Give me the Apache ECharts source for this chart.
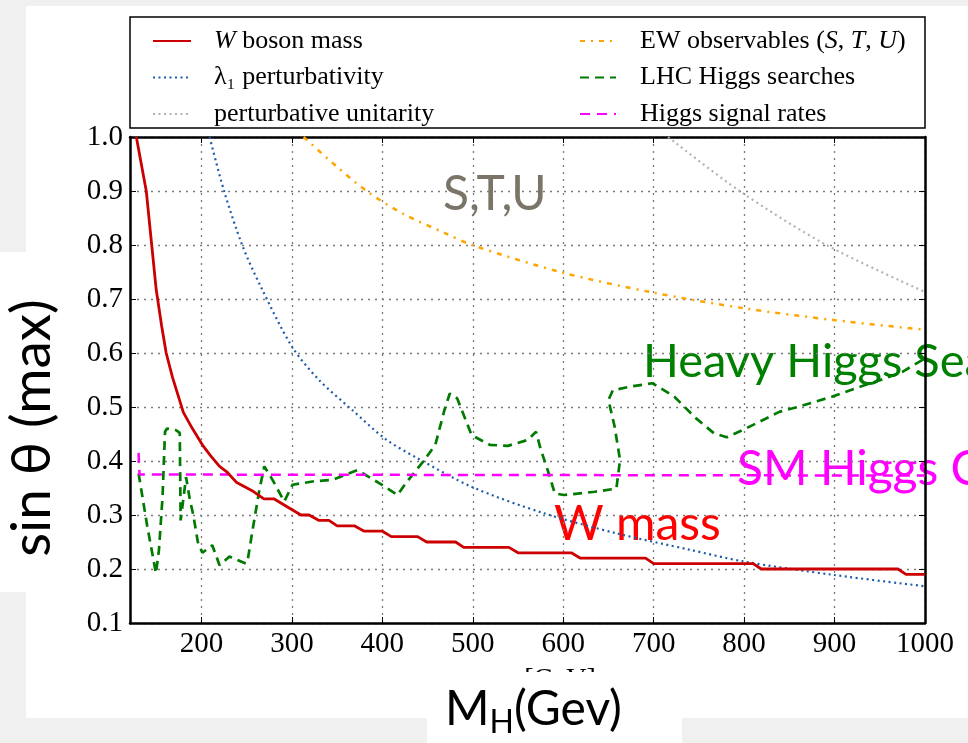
<!DOCTYPE html>
<html><head><meta charset="utf-8">
<script src="https://cdn.jsdelivr.net/npm/echarts@6/dist/echarts.min.js"></script>
<style>html,body{margin:0;padding:0;background:#f0f0f0}#c{width:968px;height:743px}</style>
</head><body><div id="c"></div><script>
// ---- data ----
const xTicks = [200,300,400,500,600,700,800,900,1000];
const yTicks = [0.1,0.2,0.3,0.4,0.5,0.6,0.7,0.8,0.9,1.0];

const wMassX = [128,139,145,150,156,161,168,180,190,201,210,220,228,239,256,269,280,297,310,319,330,341,350,369,380,400,410,439,449,481,490,540,550,609,619,691,700,810,819,970,979,1000];
const wMassY = [1.0,0.9,0.8,0.717,0.65,0.6,0.555,0.49,0.46,0.43,0.41,0.39,0.38,0.36,0.345,0.33,0.33,0.313,0.30,0.30,0.29,0.29,0.28,0.28,0.27,0.27,0.26,0.26,0.25,0.25,0.24,0.24,0.23,0.23,0.22,0.22,0.21,0.21,0.20,0.20,0.19,0.19];

const lambdaX = [209,225,245,265,300,330,367,404,439,499,579,659,739,799,899,1000];
const lambdaY = [1.0,0.9,0.8,0.725,0.612,0.55,0.494,0.44,0.405,0.352,0.303,0.266,0.236,0.214,0.189,0.168];

const unitX = [716,795,891,1000];
const unitY = [1.0,0.9,0.8,0.713];

const ewX = [313,349,385,425,468,499,599,699,799,899,1000];
const ewY = [1.0,0.946,0.897,0.856,0.823,0.80,0.749,0.712,0.683,0.661,0.643];

const lhcX = [130.5,140,149.7,153,157,159.7,162,172,176,177,183,187,191,196,201,212,220,231,249,251,256.5,264,269.5,278.6,291.5,300.7,322.7,345,372.5,396.5,416.7,426,446.6,458.6,468.6,474.6,482.7,498.7,518.7,538.7,560.7,570,574.7,582.8,590.7,600.8,634.8,658.8,662.8,656.8,650,654.8,674.8,698.8,722.9,746.9,766.9,780.9,802.9,838.9,859,897,929,956,975,1000];
const lhcY = [0.377,0.28,0.192,0.235,0.334,0.454,0.46,0.457,0.452,0.29,0.37,0.33,0.30,0.25,0.23,0.244,0.207,0.223,0.21,0.215,0.272,0.346,0.39,0.365,0.325,0.356,0.362,0.365,0.383,0.359,0.337,0.359,0.402,0.43,0.494,0.525,0.516,0.448,0.43,0.428,0.439,0.454,0.424,0.383,0.34,0.337,0.343,0.349,0.402,0.464,0.513,0.531,0.538,0.544,0.519,0.479,0.451,0.444,0.461,0.491,0.50,0.519,0.538,0.553,0.565,0.59];

const higgsX = [130.5,131.5,1000];
const higgsY = [0.415,0.375,0.373];

const seriesNames = ['W boson mass','λ₁ perturbativity','perturbative unitarity','EW observables (S,T,U)','LHC Higgs searches','Higgs signal rates'];

// ---- helpers ----
const zip = (xs, ys) => xs.map((x, i) => [x, ys[i]]);
const serif = 'Liberation Serif';
const sans = 'Lato';

const chart = echarts.init(document.getElementById('c'), null, {renderer: 'canvas'});

function legendFmt(name) {
  if (name === 'W boson mass') return '{i|W} boson mass';
  if (name === 'EW observables (S,T,U)') return 'EW observables ({i|S}, {i|T}, {i|U})';
  return name;
}
const legendText = (pad) => ({
  fontFamily: serif, fontSize: 26, lineHeight: 28, color: '#000', padding: [0, 0, 0, pad],
  rich: { i: { fontFamily: serif, fontSize: 26, fontStyle: 'italic', color: '#000' } }
});

const gridLine = { show: true, lineStyle: { color: '#7a7a7a', type: [2, 5], width: 1.3 } };
const frame = { show: true, onZero: false, lineStyle: { color: '#000', width: 2.5 } };

const option = {
  backgroundColor: '#f0f0f0',
  animation: false,
  grid: { left: 130, right: 43, top: 137, bottom: 120 },
  legend: [
    { orient: 'vertical', left: 147, top: 22, itemWidth: 38, itemHeight: 10, itemGap: 8.5,
      itemStyle: { opacity: 0 },
      selectedMode: false, data: seriesNames.slice(0, 3), formatter: legendFmt, textStyle: legendText(18) },
    { orient: 'vertical', left: 574, top: 22, itemWidth: 36, itemHeight: 10, itemGap: 8.5,
      itemStyle: { opacity: 0 },
      selectedMode: false, data: seriesNames.slice(3), formatter: legendFmt, textStyle: legendText(19) }
  ],
  xAxis: [
    { type: 'value', min: 121, max: 1000, position: 'bottom',
      axisLine: frame,
      axisTick: { show: true, inside: true, length: 6, customValues: xTicks, lineStyle: { color: '#000', width: 1 } },
      axisLabel: { customValues: xTicks, fontFamily: serif, fontSize: 29, color: '#000', margin: 7, formatter: v => String(v) },
      splitLine: gridLine },
    { type: 'value', min: 121, max: 1000, position: 'top',
      axisLine: frame,
      axisTick: { show: true, inside: true, length: 6, customValues: xTicks, lineStyle: { color: '#000', width: 1 } },
      axisLabel: { show: false }, splitLine: { show: false } }
  ],
  yAxis: [
    { type: 'value', min: 0.1, max: 1.0, interval: 0.1, position: 'left',
      axisLine: frame,
      axisTick: { show: true, inside: true, length: 6, lineStyle: { color: '#000', width: 1 } },
      axisLabel: { fontFamily: serif, fontSize: 29, color: '#000', margin: 7, formatter: v => v.toFixed(1) },
      splitLine: gridLine },
    { type: 'value', min: 0.1, max: 1.0, interval: 0.1, position: 'right',
      axisLine: frame,
      axisTick: { show: true, inside: true, length: 6, lineStyle: { color: '#000', width: 1 } },
      axisLabel: { show: false }, splitLine: { show: false } }
  ],
  series: [
    { name: seriesNames[0], type: 'line', symbol: 'none', data: zip(wMassX, wMassY), z: 6,
      lineStyle: { color: '#cc0000', width: 2.8 }, itemStyle: { color: '#cc0000' } },
    { name: seriesNames[1], type: 'line', symbol: 'none', smooth: 0.3, data: zip(lambdaX, lambdaY), z: 3,
      lineStyle: { color: '#1c5ca8', width: 2.2, type: [2, 3.5] }, itemStyle: { color: '#1c5ca8' } },
    { name: seriesNames[2], type: 'line', symbol: 'none', smooth: 0.3, data: zip(unitX, unitY), z: 3,
      lineStyle: { color: '#b3b3b3', width: 2.2, type: [2, 3.5] }, itemStyle: { color: '#b3b3b3' } },
    { name: seriesNames[3], type: 'line', symbol: 'none', smooth: 0.3, data: zip(ewX, ewY), z: 3,
      lineStyle: { color: '#ffa500', width: 2.5, type: [5, 6, 2, 6] }, itemStyle: { color: '#ffa500' } },
    { name: seriesNames[4], type: 'line', symbol: 'none', data: zip(lhcX, lhcY), z: 4,
      lineStyle: { color: '#007a00', width: 2.7, type: [9, 6] }, itemStyle: { color: '#007a00' } },
    { name: seriesNames[5], type: 'line', symbol: 'none', data: zip(higgsX, higgsY), z: 5,
      lineStyle: { color: '#ff00ff', width: 2.5, type: [10, 7] }, itemStyle: { color: '#ff00ff' } }
  ],
  graphic: [
    // white page areas over the grey screenshot background
    { type: 'rect', z: -20, shape: { x: 26, y: 6, width: 942, height: 712 }, style: { fill: '#fff' }, silent: true },
    { type: 'rect', z: -20, shape: { x: 0, y: 252, width: 30, height: 340 }, style: { fill: '#fff' }, silent: true },
    // partially hidden original unit label
    { type: 'text', z: -19, x: 560, y: 666, style: { text: '[GeV]', fontFamily: serif, fontSize: 28, fill: '#000', align: 'center', verticalAlign: 'top' }, silent: true },
    { type: 'rect', z: -18, shape: { x: 427, y: 672, width: 255, height: 71 }, style: { fill: '#fff' }, silent: true },
    { type: 'text', z: -17, x: 445, y: 710, style: {
        text: '{a|M}{b|H}{a|(Gev)}', verticalAlign: 'middle',
        rich: { a: { fontFamily: sans, fontSize: 48, fill: '#000' },
                b: { fontFamily: sans, fontSize: 32, fill: '#000', padding: [26, 0, 0, 0] } } }, silent: true },
    // y title
    { type: 'text', z: -17, x: 32, y: 428, rotation: Math.PI / 2, style: {
        text: 'sin θ (max)', fontFamily: sans, fontSize: 55, fill: '#000', align: 'center', verticalAlign: 'middle' }, silent: true },
    // legend frame
    { type: 'rect', z: -15, shape: { x: 130, y: 17, width: 795, height: 111 }, style: { fill: '#fff', stroke: '#000', lineWidth: 1.5 }, silent: true },
    // annotations
    { type: 'text', z: -16, x: 443, y: 195, style: { text: 'S,T,U', fontFamily: sans, fontSize: 48, fill: '#7b7468', verticalAlign: 'middle' }, silent: true },
    { type: 'text', z: -16, x: 643, y: 362, style: { text: 'Heavy Higgs Searches', fontFamily: sans, fontSize: 47, fill: '#008000', verticalAlign: 'middle' }, silent: true },
    { type: 'text', z: -16, x: 737, y: 470, style: { text: 'SM Higgs Couplings', fontFamily: sans, fontSize: 48, fill: '#ff00ff', verticalAlign: 'middle' }, silent: true },
    { type: 'text', z: -16, x: 554, y: 525, style: { text: 'W mass', fontFamily: sans, fontSize: 48, fill: '#ff0000', verticalAlign: 'middle' }, silent: true }
  ]
};
chart.setOption(option);
</script></body></html>
